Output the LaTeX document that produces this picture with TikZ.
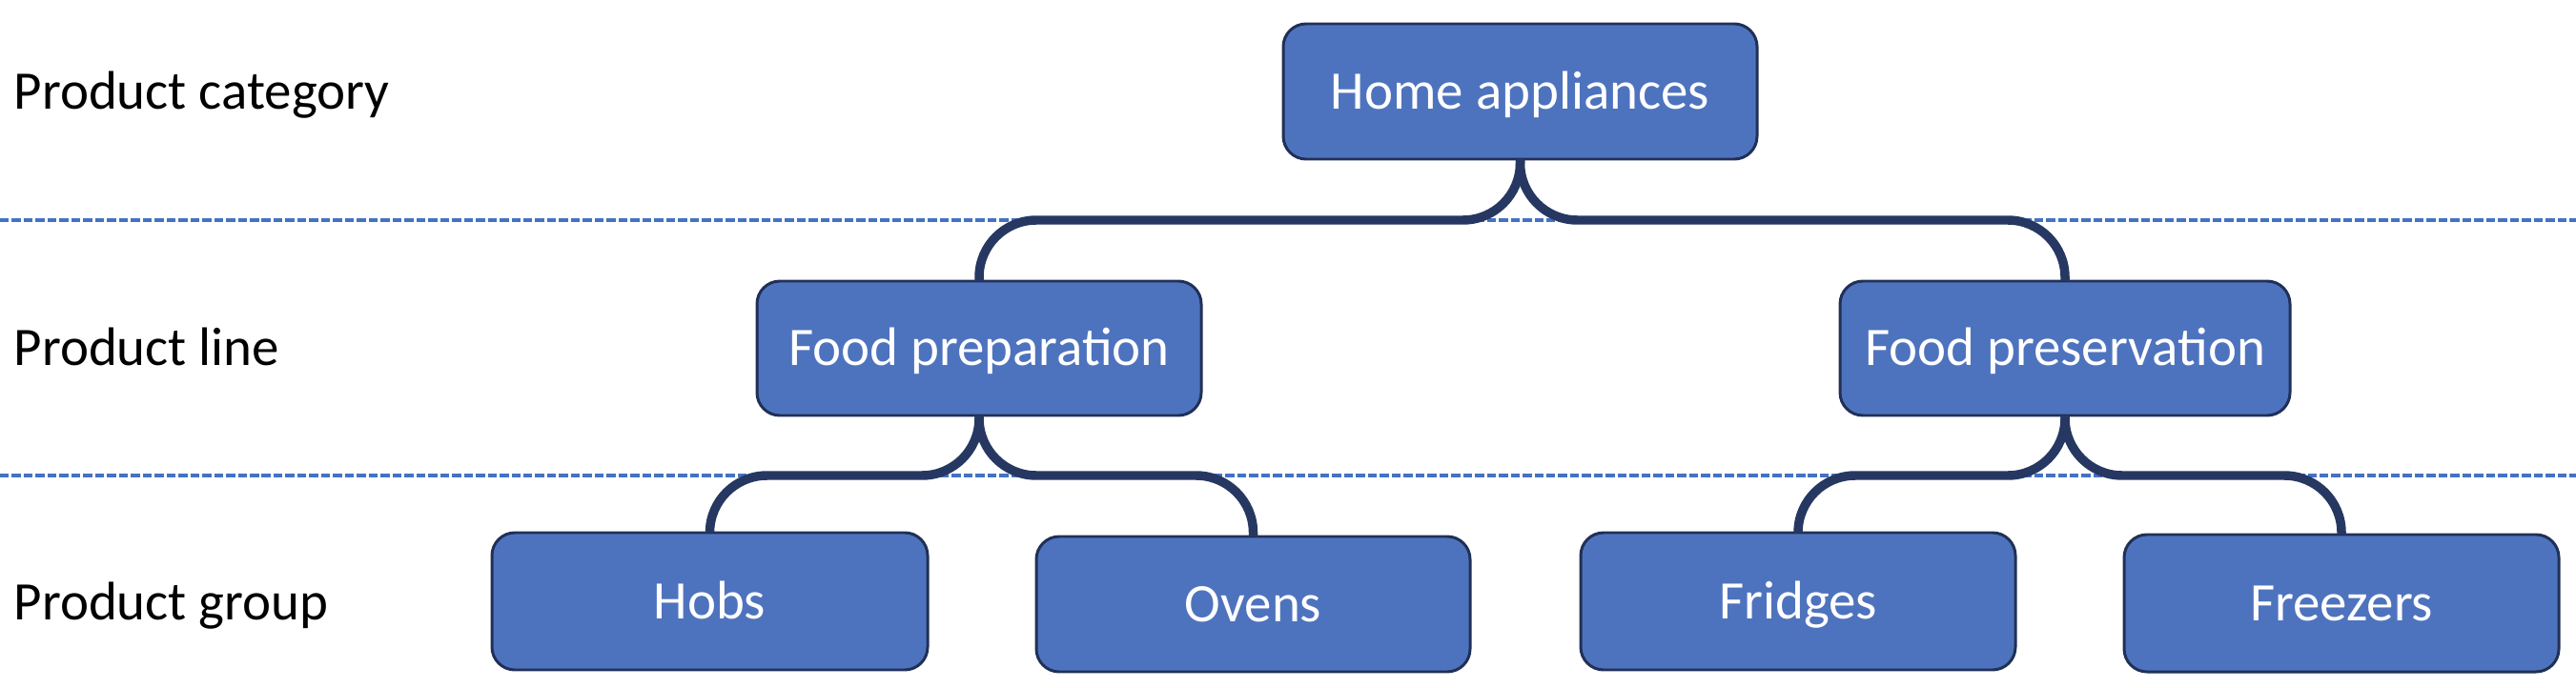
\documentclass[tikz,border=0pt]{standalone}
\usepackage{fontspec}
\setmainfont{Carlito}
\definecolor{boxfill}{RGB}{78,115,190}
\definecolor{boxline}{RGB}{32,48,86}
\definecolor{connline}{RGB}{38,56,98}
\definecolor{dashline}{RGB}{68,114,196}
\begin{document}
\begin{tikzpicture}[
  x=1cm,y=1cm,
  catbox/.style={draw=boxline, line width=0.85pt, fill=boxfill, rounded corners=0.24cm,
    text=white, font=\fontsize{16.2}{20}\selectfont, inner sep=0pt, outer sep=0pt,
    text height=0.48cm, text depth=0.12cm, align=center},
  levellabel/.style={anchor=base west, text=black, font=\fontsize{16.2}{20}\selectfont, inner sep=0pt},
  conn/.style={draw=connline, line width=2.7pt, rounded corners=0.6cm},
  sep/.style={draw=dashline, line width=0.9pt, dash pattern=on 2.7pt off 0.85pt}
]
\useasboundingbox (0,0) rectangle (27.02,-7.22);

% separators
\coordinate (s1l) at (0,-2.31);
\coordinate (s1r) at (27.02,-2.31);
\coordinate (s2l) at (0,-4.99);
\coordinate (s2r) at (27.02,-4.99);
\draw[sep] (s1l) -- (s1r);
\draw[sep] (s2l) -- (s2r);

% level labels
\node[levellabel] (lblcat) at (0.14,-1.15) {Product category};
\node[levellabel] (lblline) at (0.14,-3.83) {Product line};
\node[levellabel] (lblgroup) at (0.14,-6.50) {Product group};

% boxes
\node[catbox, minimum width=4.97cm, minimum height=1.42cm] (home) at (15.945,-0.96) {Home appliances};
\node[catbox, minimum width=4.66cm, minimum height=1.41cm] (prep) at (10.27,-3.655) {Food preparation};
\node[catbox, minimum width=4.72cm, minimum height=1.41cm] (pres) at (21.66,-3.655) {Food preservation};
\node[catbox, minimum width=4.57cm, minimum height=1.44cm] (hobs) at (7.445,-6.31) {Hobs};
\node[catbox, minimum width=4.55cm, minimum height=1.42cm] (ovens) at (13.145,-6.34) {Ovens};
\node[catbox, minimum width=4.56cm, minimum height=1.44cm] (fridges) at (18.86,-6.31) {Fridges};
\node[catbox, minimum width=4.56cm, minimum height=1.44cm] (freezers) at (24.56,-6.33) {Freezers};

% bars
\coordinate (bar1) at (0,-2.31);
\coordinate (bar2) at (0,-4.99);

% connectors
\draw[conn] (home.south) -- (home.south |- bar1) -- (prep.north |- bar1) -- (prep.north);
\draw[conn] (home.south) -- (home.south |- bar1) -- (pres.north |- bar1) -- (pres.north);
\draw[conn] (prep.south) -- (prep.south |- bar2) -- (hobs.north |- bar2) -- (hobs.north);
\draw[conn] (prep.south) -- (prep.south |- bar2) -- (ovens.north |- bar2) -- (ovens.north);
\draw[conn] (pres.south) -- (pres.south |- bar2) -- (fridges.north |- bar2) -- (fridges.north);
\draw[conn] (pres.south) -- (pres.south |- bar2) -- (freezers.north |- bar2) -- (freezers.north);
\end{tikzpicture}
\end{document}
